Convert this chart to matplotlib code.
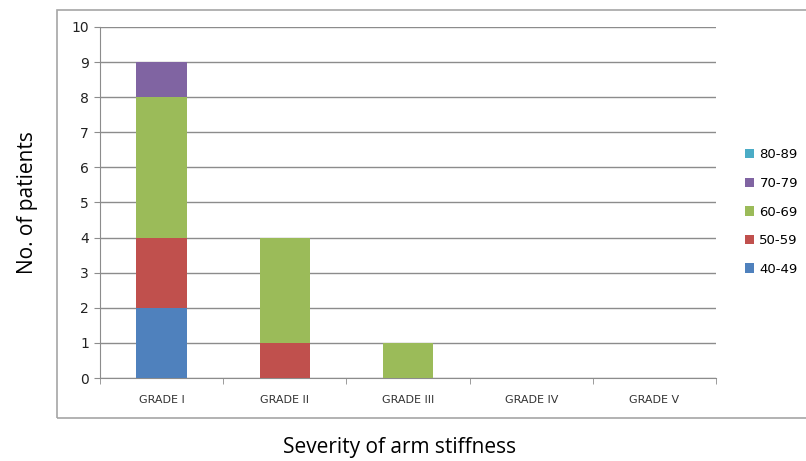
import matplotlib.pyplot as plt
import matplotlib.patches as mpatches
import numpy as np

grades = ["GRADE I", "GRADE II", "GRADE III", "GRADE IV", "GRADE V"]
age_groups = ["40-49", "50-59", "60-69", "70-79", "80-89"]
age_40_49 = [2, 0, 0, 0, 0]
age_50_59 = [2, 1, 0, 0, 0]
age_60_69 = [4, 3, 1, 0, 0]
age_70_79 = [1, 0, 0, 0, 0]
age_80_89 = [0, 0, 0, 0, 0]
colors = ["#4F81BD", "#C0504D", "#9BBB59", "#8064A2", "#4BACC6"]

series = [age_40_49, age_50_59, age_60_69, age_70_79, age_80_89]

fig = plt.figure(figsize=(8.06, 4.61), dpi=100)
# outer chart border
fig.patches.append(mpatches.Rectangle((57/806, 43/461), 760/806, 408/461,
                                      transform=fig.transFigure, fill=False,
                                      edgecolor="#a6a6a6", linewidth=1.2))
ax = fig.add_axes([100/806, 83/461, 616/806, 351/461])

x = np.arange(len(grades))
bottom = np.zeros(len(grades))
handles = []
for vals, c, lab in zip(series, colors, age_groups):
    b = ax.bar(x, vals, width=0.41, bottom=bottom, color=c, label=lab, zorder=3)
    bottom += np.array(vals)
    handles.append(b)

ax.set_xlim(-0.5, 4.5)
ax.set_ylim(0, 10)
ax.set_yticks(range(0, 11))
ax.yaxis.grid(True, color="#8c8c8c", linewidth=1, zorder=0)
for s in ["top", "right"]:
    ax.spines[s].set_visible(False)
for s in ["left", "bottom"]:
    ax.spines[s].set_color("#8c8c8c")
ax.set_xticks(x)
ax.set_xticklabels(grades, fontsize=8, color="#333333")
ax.set_xticks(np.arange(-0.5, 5, 1), minor=True)
ax.tick_params(axis="x", which="major", length=0, pad=12)
ax.tick_params(axis="x", which="minor", length=4, color="#8c8c8c")
ax.tick_params(axis="y", length=4, color="#8c8c8c", labelsize=10, labelcolor="#222222", pad=4)

ax.set_ylabel("No. of patients", fontsize=15, family="Open Sans", labelpad=24)
fig.text(400/806, 14/461, "Severity of arm stiffness", fontsize=15,
         family="Open Sans", ha="center", va="center")

leg = fig.legend(handles[::-1], age_groups[::-1], loc="center left",
                 bbox_to_anchor=(733/806, (461 - 212)/461), frameon=False,
                 fontsize=9.5, handlelength=0.7, handleheight=0.7,
                 handletextpad=0.4, labelspacing=1.18)

plt.savefig("out.png", dpi=100)
